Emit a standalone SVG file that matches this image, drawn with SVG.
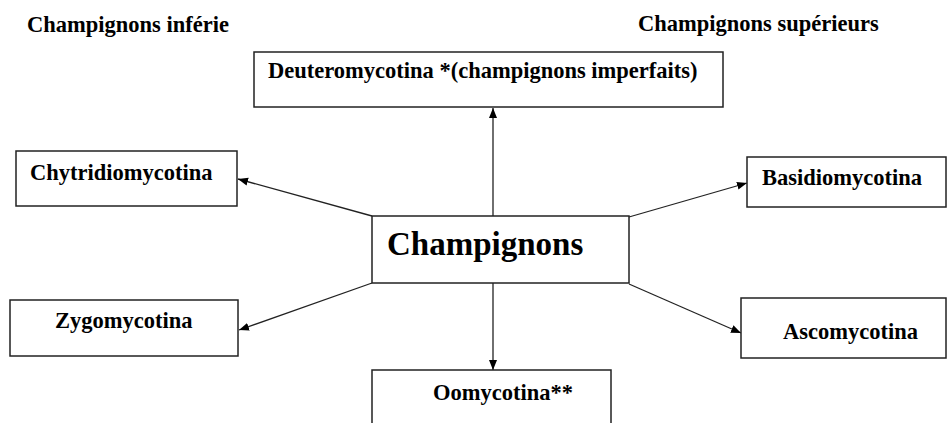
<svg xmlns="http://www.w3.org/2000/svg" width="950" height="423" viewBox="0 0 950 423">
<style>
.box{fill:#fff;stroke:#222;stroke-width:1.5}
.c{stroke:#222;stroke-width:1.3;fill:none;marker-end:url(#ah)}
</style>
<defs>
<marker id="ah" viewBox="0 0 10 10" refX="10" refY="5" markerWidth="10" markerHeight="10" markerUnits="userSpaceOnUse" orient="auto">
<path d="M0,1 L10,5 L0,9 Z" fill="#000"/>
</marker>
</defs>
<rect width="950" height="423" fill="#fff"/>
<g font-family="Liberation Serif, Times New Roman, serif" font-weight="bold" font-size="22.5" fill="#000">
<text x="27" y="32">Champignons inférie</text>
<text x="638" y="31">Champignons supérieurs</text>
</g>
<g id="connectors">
<line class="c" x1="493" y1="216" x2="493" y2="108"/>
<line class="c" x1="372" y1="216" x2="238" y2="179"/>
<line class="c" x1="372" y1="283" x2="239" y2="330"/>
<line class="c" x1="493" y1="283" x2="493" y2="370"/>
<line class="c" x1="629" y1="217" x2="747" y2="183"/>
<line class="c" x1="629" y1="284" x2="741" y2="333"/>
</g>
<g font-family="Liberation Serif, Times New Roman, serif" font-weight="bold" font-size="22.5" fill="#000">
<g id="deutero">
<rect class="box" x="254" y="52" width="469" height="55"/>
<text x="268" y="78">Deuteromycotina *(champignons imperfaits)</text>
</g>
<g id="chytridio">
<rect class="box" x="16" y="151" width="221" height="55"/>
<text x="30" y="180">Chytridiomycotina</text>
</g>
<g id="champignons">
<rect class="box" x="372" y="216" width="257" height="67"/>
<text x="387" y="255" font-size="33">Champignons</text>
</g>
<g id="zygo">
<rect class="box" x="10" y="300" width="228" height="56"/>
<text x="55" y="328">Zygomycotina</text>
</g>
<g id="oomy">
<rect class="box" x="372" y="370" width="239" height="60"/>
<text x="433" y="400">Oomycotina**</text>
</g>
<g id="basidio">
<rect class="box" x="747" y="157" width="199" height="50"/>
<text x="762" y="185">Basidiomycotina</text>
</g>
<g id="asco">
<rect class="box" x="741" y="298" width="205" height="60"/>
<text x="783" y="339">Ascomycotina</text>
</g>
</g>
</svg>
